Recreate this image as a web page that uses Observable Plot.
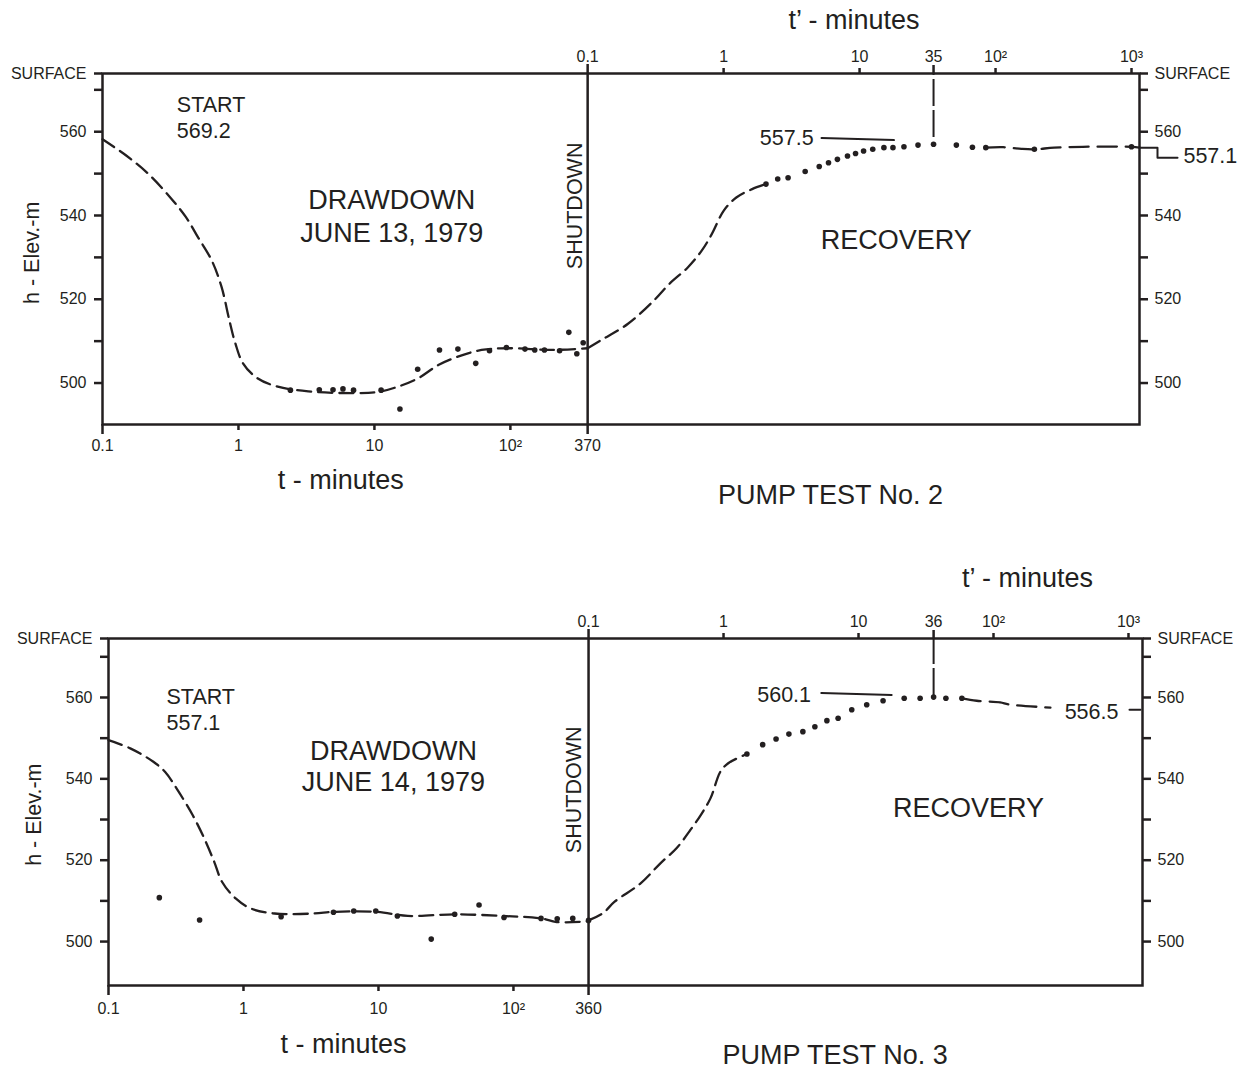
<!DOCTYPE html>
<html>
<head>
<meta charset="utf-8">
<script src="https://cdn.jsdelivr.net/npm/d3@7"></script>
<script src="https://cdn.jsdelivr.net/npm/@observablehq/plot@0.6"></script>
<style>
  html, body { margin: 0; padding: 0; background: #ffffff; }
  #chart svg { display: block; }
</style>
</head>
<body>
<div id="chart"></div>
<script>
// ---------- DATA ----------
// Pump test No. 2 (June 13, 1979)
const p2Shutdown = 370;            // t (minutes) at shutdown
const p2Peak = 35;                 // t' (minutes) of peak recovery
const p2Surface = 573.9;           // ground surface elevation (m)
const p2DrawCurveT = [0.1, 0.151, 0.218, 0.315, 0.411, 0.502, 0.635, 0.75, 0.857, 0.948, 1.08, 1.37, 1.91, 3.26, 7.26, 10.8, 15.1, 21.1, 29.5, 41.1, 61.4, 98, 204, 370];
const p2DrawCurveH = [558.2, 554.2, 549.9, 544.3, 539.6, 534.9, 529.3, 523.0, 515.0, 509.5, 504.7, 501.2, 499.2, 498.0, 497.6, 497.9, 499.2, 501.2, 504.3, 506.3, 507.9, 508.3, 507.9, 508.3];
const p2DrawDotT = [2.41, 3.93, 4.96, 5.87, 7.02, 11.2, 15.4, 20.8, 30.1, 41.1, 55.6, 70.2, 93.5, 128, 151, 178, 230, 269, 308, 343];
const p2DrawDotH = [498.3, 498.4, 498.4, 498.6, 498.3, 498.3, 493.8, 503.3, 507.9, 508.1, 504.7, 507.7, 508.5, 508.1, 507.9, 507.9, 507.7, 512.1, 507.0, 509.6];
const p2RecCurveT = [0.1, 0.125, 0.197, 0.307, 0.40, 0.545, 0.69, 0.82, 1.0, 1.24, 1.62, 2.05];
const p2RecCurveH = [508.3, 510.2, 514.1, 519.7, 523.7, 527.6, 531.6, 535.6, 541.1, 544.3, 546.3, 547.5];
const p2RecDotT = [2.05, 2.5, 2.98, 3.98, 5.05, 5.91, 6.87, 8.15, 9.34, 10.7, 12.5, 15.1, 17.6, 21.2, 26.9, 35, 51.5, 67.6, 84.8, 193, 1000];
const p2RecDotH = [547.5, 548.7, 549.0, 550.5, 551.7, 552.6, 553.4, 554.2, 554.8, 555.4, 555.8, 556.2, 556.2, 556.4, 556.8, 557.0, 556.8, 556.3, 556.2, 555.8, 556.4];
const p2TailT = [84.8, 114, 155, 193, 270, 439, 1000, 1145];
const p2TailH = [556.2, 556.3, 555.9, 555.8, 556.2, 556.4, 556.4, 556.2];

// Pump test No. 3 (June 14, 1979)
const p3Shutdown = 360;
const p3Peak = 36;
const p3Surface = 574.5;
const p3DrawCurveT = [0.1, 0.145, 0.215, 0.263, 0.32, 0.42, 0.513, 0.607, 0.693, 0.875, 1.14, 1.7, 3.33, 4.64, 9.7, 16.5, 36.7, 81.8, 160, 209, 360];
const p3DrawCurveH = [549.5, 547.5, 544.2, 541.7, 537.6, 531.1, 525.3, 519.6, 514.7, 510.6, 508.1, 506.9, 506.9, 507.3, 507.3, 506.3, 506.7, 506.3, 505.7, 504.8, 505.0];
const p3DrawDotT = [0.238, 0.473, 1.9, 4.64, 6.56, 9.55, 13.8, 24.6, 36.7, 55.6, 85.1, 160, 211, 275, 360];
const p3DrawDotH = [510.8, 505.3, 506.1, 507.2, 507.5, 507.5, 506.3, 500.6, 506.7, 509.0, 505.9, 505.7, 505.6, 505.7, 505.2];
const p3RecCurveT = [0.1, 0.128, 0.156, 0.243, 0.342, 0.45, 0.57, 0.678, 0.80, 0.95, 1.09, 1.49];
const p3RecCurveH = [505.2, 507.0, 509.8, 514.3, 519.3, 523.0, 527.5, 531.1, 535.2, 541.8, 543.9, 546.1];
const p3RecDotT = [1.49, 1.95, 2.45, 3.05, 3.87, 4.75, 5.83, 7.06, 8.91, 11.5, 15.2, 21.8, 28.6, 36, 44.4, 58.3];
const p3RecDotH = [546.1, 548.4, 549.8, 551.0, 551.6, 552.8, 554.3, 554.9, 557.0, 558.2, 559.2, 559.8, 559.8, 560.1, 559.8, 559.8];
const p3TailT = [58.3, 75, 112, 130, 264];
const p3TailH = [559.8, 559.2, 558.8, 558.3, 557.5];

// Axis ticks
const yTicks = [500, 510, 520, 530, 540, 550, 560, 570];
const yTickLabels = ["500", "", "520", "", "540", "", "560", ""];
const tMinorTicks = [1, 10, 100];
const tMinorLabels = ["1", "10", "10²"];
const tpMinorTicks = [1, 10, 100, 1000];
const tpMinorLabels = ["1", "10", "10²", "10³"];

// ---------- DRAWING ----------
const INK = "#231f20";
const FONT = '"Liberation Sans", Arial, Helvetica, sans-serif';
const BIG = 27, MID = 21.5, SMALL = 16;

function zip(a, b) { return a.map((v, i) => ({t: v, h: b[i]})); }

function panel(c) {
  const xr = tp => c.shutdown * tp / 0.1;          // t' on the shared log axis
  const rx = d => xr(d.t);
  const yAll = yTicks.concat([c.surface]);
  const yLab = yTickLabels.concat(["SURFACE"]);
  const yFmt = v => yLab[yAll.indexOf(v)];
  const botTicks = [0.1].concat(tMinorTicks, [c.shutdown]);
  const botLabels = ["0.1"].concat(tMinorLabels, [String(c.shutdown)]);
  const topTicks = [0.1, 1, 10, c.peak, 100, 1000];
  const topLabels = ["0.1", "1", "10", String(c.peak), "10²", "10³"];
  const ax = {label: null, strokeWidth: 2.5, stroke: INK, tickFormat: () => ""};

  return Plot.plot({
    width: 1241,
    height: c.height,
    marginTop: c.mt, marginBottom: c.mb, marginLeft: c.ml, marginRight: c.mr,
    style: {fontFamily: FONT, fontSize: "16px", color: INK, background: "#ffffff"},
    x: {type: "log", domain: [0.1, xr(c.tpMax)]},
    y: {domain: [c.yMin, c.surface]},
    marks: [
      Plot.frame({stroke: INK, strokeWidth: 2.5}),
      Plot.ruleX([c.shutdown], {stroke: INK, strokeWidth: 2.5}),
      // left & right elevation axes
      Plot.axisY(yAll, {anchor: "left", label: null, tickSize: 8, tickPadding: 8, tickFormat: yFmt, strokeWidth: 2.5, stroke: INK, fill: INK, fontSize: SMALL}),
      Plot.axisY(yAll, {anchor: "right", label: null, tickSize: 8, tickPadding: 7, tickFormat: yFmt, strokeWidth: 2.5, stroke: INK, fill: INK, fontSize: SMALL}),
      // bottom t axis (ticks) + labels
      Plot.axisX([0.1, c.shutdown], {...ax, anchor: "bottom", tickSize: 10}),
      Plot.axisX(tMinorTicks, {...ax, anchor: "bottom", tickSize: 6}),
      Plot.text(botTicks, {x: d => d, text: (d, i) => botLabels[i], frameAnchor: "bottom", lineAnchor: "middle", dy: c.botDy, fontSize: SMALL, fill: INK}),
      // top t' axis (ticks) + labels
      Plot.axisX([xr(0.1)], {...ax, anchor: "top", tickSize: 10}),
      Plot.axisX([xr(c.peak)], {...ax, anchor: "top", tickSize: 9}),
      Plot.axisX(tpMinorTicks.map(xr), {...ax, anchor: "top", tickSize: 6}),
      Plot.text(topTicks, {x: d => xr(d), text: (d, i) => topLabels[i], frameAnchor: "top", lineAnchor: "middle", dy: c.topDy, fontSize: SMALL, fill: INK}),
      // drawdown curve & points
      Plot.line(zip(c.drawCurveT, c.drawCurveH), {x: "t", y: "h", curve: "catmull-rom", stroke: INK, strokeWidth: 2.3, strokeDasharray: "14,7"}),
      Plot.dot(zip(c.drawDotT, c.drawDotH), {x: "t", y: "h", r: 2.8, fill: INK, stroke: "none"}),
      // recovery curve & points
      Plot.line(zip(c.recCurveT, c.recCurveH), {x: rx, y: "h", curve: "catmull-rom", stroke: INK, strokeWidth: 2.3, strokeDasharray: "14,7"}),
      Plot.dot(zip(c.recDotT, c.recDotH), {x: rx, y: "h", r: 2.8, fill: INK, stroke: "none"}),
      Plot.line(zip(c.tailT, c.tailH), {x: rx, y: "h", curve: "catmull-rom", stroke: INK, strokeWidth: 2.3, strokeDasharray: "19,9"}),
      // peak marker (dashed vertical from surface to peak)
      Plot.ruleX([xr(c.peak)], {y1: c.peakLineBottom, y2: c.surface, stroke: INK, strokeWidth: 2, strokeDasharray: "27,4"}),
      // peak label leader
      Plot.line(zip(c.leaderT, c.leaderH), {x: rx, y: "h", stroke: INK, strokeWidth: 2}),
      // end-of-record connector
      Plot.line(zip(c.connT, c.connH), {x: rx, y: "h", stroke: INK, strokeWidth: 2}),
      // annotations
      Plot.text(["START"], {x: c.startT, y: c.startY1, text: d => d, textAnchor: "start", fontSize: MID, fill: INK}),
      Plot.text([c.startLabel], {x: c.startT, y: c.startY2, text: d => d, textAnchor: "start", fontSize: MID, fill: INK}),
      Plot.text(["DRAWDOWN"], {x: c.ddT, y: c.ddY1, text: d => d, fontSize: BIG, fill: INK}),
      Plot.text([c.dateLabel], {x: c.ddT, y: c.ddY2, text: d => d, fontSize: BIG, fill: INK}),
      Plot.text(["SHUTDOWN"], {x: c.sdT, y: c.sdY, text: d => d, rotate: -90, fontSize: MID, fill: INK}),
      Plot.text(["RECOVERY"], {x: xr(c.recT), y: c.recY, text: d => d, fontSize: BIG, fill: INK}),
      Plot.text([c.peakLabel], {x: xr(c.peakLabelT), y: c.peakLabelY, text: d => d, textAnchor: "end", fontSize: MID, fill: INK}),
      Plot.text([c.endLabel], {x: xr(c.endLabelT), y: c.endLabelY, text: d => d, textAnchor: c.endAnchor, fontSize: MID, fill: INK}),
      Plot.text(["h - Elev.-m"], {y: c.hY, frameAnchor: "left", textAnchor: "middle", lineAnchor: "middle", dx: c.hDx, text: d => d, rotate: -90, fontSize: MID, fill: INK}),
      Plot.text(["t’ - minutes"], {x: xr(c.tpLabelT), frameAnchor: "top", lineAnchor: "middle", dy: c.tpLabelDy, text: d => d, fontSize: BIG, fill: INK}),
      Plot.text(["t - minutes"], {x: c.tLabelT, frameAnchor: "bottom", lineAnchor: "middle", dy: c.tLabelDy, text: d => d, fontSize: BIG, fill: INK}),
      Plot.text([c.title], {x: xr(c.titleT), frameAnchor: "bottom", lineAnchor: "middle", dy: c.titleDy, text: d => d, fontSize: BIG, fill: INK})
    ]
  });
}

const panelTop = panel({
  height: 530, mt: 73, mb: 106, ml: 102, mr: 102,
  shutdown: p2Shutdown, peak: p2Peak, surface: p2Surface, yMin: 490.1, tpMax: 1145,
  drawCurveT: p2DrawCurveT, drawCurveH: p2DrawCurveH, drawDotT: p2DrawDotT, drawDotH: p2DrawDotH,
  recCurveT: p2RecCurveT, recCurveH: p2RecCurveH, recDotT: p2RecDotT, recDotH: p2RecDotH,
  tailT: p2TailT, tailH: p2TailH,
  peakLineBottom: 558.6,
  leaderT: [5.25, 17.9], leaderH: [558.5, 558.0],
  connT: [1145, 1553, 1553, 2180], connH: [556.2, 556.2, 553.8, 553.8],
  startT: 0.352, startY1: 566.3, startY2: 560.2, startLabel: "569.2",
  ddT: 13.4, ddY1: 543.7, ddY2: 535.7, dateLabel: "JUNE 13, 1979",
  sdT: 297, sdY: 542.3,
  recT: 18.6, recY: 534.0,
  peakLabel: "557.5", peakLabelT: 4.59, peakLabelY: 558.4,
  endLabel: "557.1", endLabelT: 2410, endLabelY: 554.1, endAnchor: "start",
  hY: 531.1, hDx: -70.7,
  botDy: 21, topDy: -16.5,
  tpLabelT: 9.1, tpLabelDy: -53.5,
  tLabelT: 5.65, tLabelDy: 56,
  title: "PUMP TEST No. 2", titleT: 6.12, titleDy: 71
});

const panelBottom = panel({
  height: 539, mt: 108, mb: 84, ml: 108, mr: 99,
  shutdown: p3Shutdown, peak: p3Peak, surface: p3Surface, yMin: 489.2, tpMax: 1270,
  drawCurveT: p3DrawCurveT, drawCurveH: p3DrawCurveH, drawDotT: p3DrawDotT, drawDotH: p3DrawDotH,
  recCurveT: p3RecCurveT, recCurveH: p3RecCurveH, recDotT: p3RecDotT, recDotH: p3RecDotH,
  tailT: p3TailT, tailH: p3TailH,
  peakLineBottom: 560.5,
  leaderT: [5.3, 17.6], leaderH: [561.1, 560.6],
  connT: [1017, 1227], connH: [557.0, 557.0],
  startT: 0.269, startY1: 560.1, startY2: 553.7, startLabel: "557.1",
  ddT: 12.9, ddY1: 546.7, ddY2: 539.1, dateLabel: "JUNE 14, 1979",
  sdT: 283, sdY: 537.3,
  recT: 65.3, recY: 532.7,
  peakLabel: "560.1", peakLabelT: 4.45, peakLabelY: 560.6,
  endLabel: "556.5", endLabelT: 843, endLabelY: 556.3, endAnchor: "end",
  hY: 531.2, hDx: -74.4,
  botDy: 23, topDy: -17,
  tpLabelT: 178.6, tpLabelDy: -60.5,
  tLabelT: 5.5, tLabelDy: 59,
  title: "PUMP TEST No. 3", titleT: 6.71, titleDy: 70
});

const host = document.getElementById("chart");
host.appendChild(panelTop);
host.appendChild(panelBottom);
</script>
</body>
</html>
